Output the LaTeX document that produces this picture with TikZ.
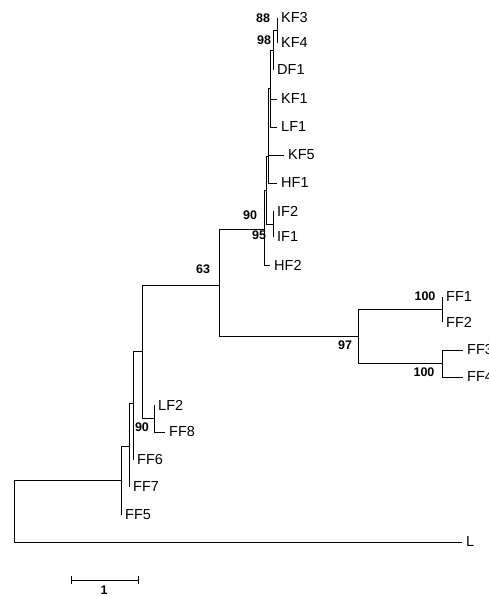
\documentclass[tikz,border=0pt]{standalone}
\usepackage{fontspec}
\setmainfont{Liberation Sans}
\begin{document}
\begin{tikzpicture}[x=1pt,y=-1pt,
  br/.style={line width=0.9pt,black},
  leaf/.style={anchor=west,inner sep=0pt,xshift=4pt,font=\fontsize{14.5}{14.5}\selectfont},
  boot/.style={inner sep=0pt,font=\bfseries\fontsize{12.5}{13}\selectfont}]
\useasboundingbox (0,0) rectangle (488,597);
% internal nodes and tips
\coordinate (R) at (14,511);
\coordinate (Lt) at (462,542);
\coordinate (I0) at (121,480);
\coordinate (FF5t) at (121,515);
\coordinate (I1) at (129,446);
\coordinate (FF7t) at (129,487);
\coordinate (I2) at (133,403);
\coordinate (FF6t) at (133,460);
\coordinate (I3) at (142,351);
\coordinate (I4) at (154,418);
\coordinate (LF2t) at (154,405);
\coordinate (FF8t) at (165,432);
\coordinate (J0) at (219,285);
\coordinate (K0) at (358,336);
\coordinate (K1) at (442,309);
\coordinate (FF1t) at (442,297);
\coordinate (FF2t) at (442,322);
\coordinate (K2) at (442,363);
\coordinate (FF3t) at (463,350);
\coordinate (FF4t) at (463,377);
\coordinate (A) at (264,229);
\coordinate (HF2t) at (270,265);
\coordinate (B) at (266,190);
\coordinate (IFn) at (273,224);
\coordinate (IF2t) at (273,211);
\coordinate (IF1t) at (273,237);
\coordinate (C) at (268,156);
\coordinate (KF5t) at (284,155);
\coordinate (HF1t) at (277,183);
\coordinate (D) at (270,88);
\coordinate (KF1t) at (277,99);
\coordinate (LF1t) at (277,127);
\coordinate (E) at (273,50);
\coordinate (DF1t) at (273,70);
\coordinate (N1) at (277,30);
\coordinate (KF3t) at (277,18);
\coordinate (KF4t) at (277,43);
% branches
\draw[br] (R) |- (I0);
\draw[br] (R) |- (Lt);
\draw[br] (I0) |- (FF5t);
\draw[br] (I0) |- (I1);
\draw[br] (I1) |- (FF7t);
\draw[br] (I1) |- (I2);
\draw[br] (I2) |- (FF6t);
\draw[br] (I2) |- (I3);
\draw[br] (I3) |- (I4);
\draw[br] (I3) |- (J0);
\draw[br] (I4) |- (LF2t);
\draw[br] (I4) |- (FF8t);
\draw[br] (J0) |- (A);
\draw[br] (J0) |- (K0);
\draw[br] (K0) |- (K1);
\draw[br] (K0) |- (K2);
\draw[br] (K1) |- (FF1t);
\draw[br] (K1) |- (FF2t);
\draw[br] (K2) |- (FF3t);
\draw[br] (K2) |- (FF4t);
\draw[br] (A) |- (B);
\draw[br] (A) |- (HF2t);
\draw[br] (B) |- (C);
\draw[br] (B) |- (IFn);
\draw[br] (IFn) |- (IF2t);
\draw[br] (IFn) |- (IF1t);
\draw[br] (C) |- (D);
\draw[br] (C) |- (KF5t);
\draw[br] (C) |- (HF1t);
\draw[br] (D) |- (E);
\draw[br] (D) |- (KF1t);
\draw[br] (D) |- (LF1t);
\draw[br] (E) |- (N1);
\draw[br] (E) |- (DF1t);
\draw[br] (N1) |- (KF3t);
\draw[br] (N1) |- (KF4t);
% leaf labels
\node[leaf] (KF3) at (KF3t) {KF3};
\node[leaf] (KF4) at (KF4t) {KF4};
\node[leaf] (DF1) at (DF1t) {DF1};
\node[leaf] (KF1) at (KF1t) {KF1};
\node[leaf] (LF1) at (LF1t) {LF1};
\node[leaf] (KF5) at (KF5t) {KF5};
\node[leaf] (HF1) at (HF1t) {HF1};
\node[leaf] (IF2) at (IF2t) {IF2};
\node[leaf] (IF1) at (IF1t) {IF1};
\node[leaf] (HF2) at (HF2t) {HF2};
\node[leaf] (FF1) at (FF1t) {FF1};
\node[leaf] (FF2) at (FF2t) {FF2};
\node[leaf] (FF3) at (FF3t) {FF3};
\node[leaf] (FF4) at (FF4t) {FF4};
\node[leaf] (LF2) at (LF2t) {LF2};
\node[leaf] (FF8) at (FF8t) {FF8};
\node[leaf] (FF6) at (FF6t) {FF6};
\node[leaf] (FF7) at (FF7t) {FF7};
\node[leaf] (FF5) at (FF5t) {FF5};
\node[leaf] (L) at (Lt) {L};
% bootstrap values
\node[boot] (b88) at (263,18) {88};
\node[boot] (b98) at (264,40) {98};
\node[boot] (b90a) at (250,215) {90};
\node[boot] (b95) at (259,235) {95};
\node[boot] (b63) at (203,269) {63};
\node[boot] (b97) at (345,345) {97};
\node[boot] (b100a) at (425,296) {100};
\node[boot] (b100b) at (424,372) {100};
\node[boot] (b90b) at (142,427) {90};
% scale bar
\coordinate (s1) at (71,580);
\coordinate (s2) at (138,580);
\draw[br] (s1) -- (s2);
\draw[br] ([yshift=-4pt]s1) -- ([yshift=4pt]s1);
\draw[br] ([yshift=-4pt]s2) -- ([yshift=4pt]s2);
\node[boot] (sl) at (104,590) {1};
\end{tikzpicture}
\end{document}
